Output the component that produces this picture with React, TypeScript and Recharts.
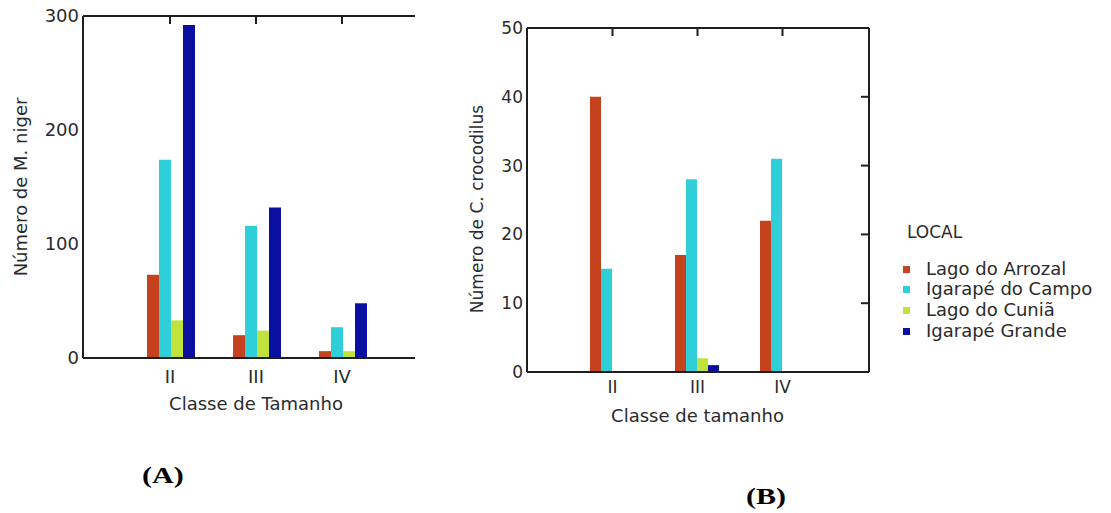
import React from 'react';
import { BarChart, Bar, XAxis, YAxis, ReferenceLine } from 'recharts';

const categories = ['II', 'III', 'IV'];
const seriesNames = ['Lago do Arrozal', 'Igarapé do Campo', 'Lago do Cuniã', 'Igarapé Grande'];
const seriesColors = ['#C4421E', '#2ECFD8', '#BFE23C', '#0B0F9F'];

// (A) Número de M. niger
const nigerArrozal = [73, 20, 6];
const nigerCampo = [174, 116, 27];
const nigerCunia = [33, 24, 6];
const nigerGrande = [292, 132, 48];
const nigerTicks = [0, 100, 200, 300];

// (B) Número de C. crocodilus
const crocArrozal = [40, 17, 22];
const crocCampo = [15, 28, 31];
const crocCunia = [0, 2, 0];
const crocGrande = [0, 1, 0];
const crocTicks = [0, 10, 20, 30, 40, 50];

const FONT = '"DejaVu Sans", Verdana, sans-serif';
const TXT = '#2b2b2b';
const LINE = '#1e1e1e';

const keys = ['s0', 's1', 's2', 's3'];

const dataA = categories.map((c, i) => ({
  cat: c,
  s0: nigerArrozal[i],
  s1: nigerCampo[i],
  s2: nigerCunia[i],
  s3: nigerGrande[i],
}));

const dataB = categories.map((c, i) => ({
  cat: c,
  s0: crocArrozal[i],
  s1: crocCampo[i],
  s2: crocCunia[i],
  s3: crocGrande[i],
}));

const axisLineStyle = { stroke: LINE, strokeWidth: 2 };

const EmptyTick = () => <g />;

function xTitle(text: string, padL: number, padR: number, capTop: number, fs: number) {
  return (props: any) => {
    const vb = props.viewBox || {};
    const cx = vb.x + padL + (vb.width - padL - padR) / 2;
    const baseline = vb.y + capTop + 0.729 * fs;
    return (
      <text x={cx} y={baseline} textAnchor="middle" fill={TXT} fontSize={fs} fontFamily={FONT}>
        {text}
      </text>
    );
  };
}

function yTitle(text: string, cxOffset: number, cyShift: number, fs: number) {
  return (props: any) => {
    const vb = props.viewBox || {};
    const cx = vb.x + cxOffset;
    const cy = vb.y + vb.height / 2 + cyShift;
    return (
      <text
        x={cx}
        y={cy}
        transform={`rotate(-90, ${cx}, ${cy})`}
        textAnchor="middle"
        dominantBaseline="central"
        fill={TXT}
        fontSize={fs}
        fontFamily={FONT}
      >
        {text}
      </text>
    );
  };
}

// short inward tick at the top of a category reference line
const TopTickShape = (props: any) => {
  const x = props.x1 ?? props.x2;
  const yTop = Math.min(props.y1 ?? 0, props.y2 ?? 0);
  if (x == null || isNaN(x)) return <g />;
  return <line x1={x} x2={x} y1={yTop} y2={yTop + 8} stroke={LINE} strokeWidth={2} />;
};

function topFrame(yMax: number) {
  return [
    <ReferenceLine key="top" y={yMax} stroke={LINE} strokeWidth={2} />,
    ...categories.map((c) => (
      <ReferenceLine key={'t' + c} x={c} stroke={LINE} strokeWidth={2} shape={TopTickShape} />
    )),
  ];
}

function ChartA() {
  const padA = { left: 44, right: 30 };
  const yMax = nigerTicks[nigerTicks.length - 1];
  return (
    <BarChart
      width={430}
      height={420}
      data={dataA}
      margin={{ top: 16, right: 15, bottom: 0, left: 0 }}
      barCategoryGap={20}
      barGap={0}
    >
      <XAxis
        dataKey="cat"
        height={62}
        padding={padA}
        tickLine={false}
        tickSize={0}
        tickMargin={12}
        axisLine={axisLineStyle}
        tick={{ fill: TXT, fontSize: 18, fontFamily: FONT }}
        label={xTitle('Classe de Tamanho', padA.left, padA.right, 39, 18)}
      />
      <YAxis
        width={83}
        domain={[0, yMax]}
        ticks={nigerTicks}
        tickLine={false}
        tickSize={0}
        tickMargin={4}
        axisLine={axisLineStyle}
        tick={{ fill: TXT, fontSize: 18, fontFamily: FONT }}
        label={yTitle('Número de M. niger', 20, 0, 18)}
      />
      {keys.map((k, i) => (
        <Bar key={k} dataKey={k} name={seriesNames[i]} fill={seriesColors[i]} isAnimationActive={false} />
      ))}
      {topFrame(yMax)}
    </BarChart>
  );
}

function ChartB() {
  const padB = { left: 43, right: 44 };
  const yMax = crocTicks[crocTicks.length - 1];
  return (
    <BarChart
      width={671}
      height={440}
      data={dataB}
      margin={{ top: 28, right: 241, bottom: 0, left: 0 }}
      barCategoryGap={20}
      barGap={0}
    >
      <XAxis
        dataKey="cat"
        height={68}
        padding={padB}
        tickLine={false}
        tickSize={0}
        tickMargin={9}
        axisLine={axisLineStyle}
        tick={{ fill: TXT, fontSize: 17, fontFamily: FONT }}
        label={xTitle('Classe de tamanho', padB.left, padB.right, 37, 18)}
      />
      <YAxis
        width={87}
        domain={[0, yMax]}
        ticks={crocTicks}
        tickLine={false}
        tickSize={0}
        tickMargin={4}
        axisLine={axisLineStyle}
        tick={{ fill: TXT, fontSize: 17, fontFamily: FONT }}
        label={yTitle('Número de C. crocodilus', 37, 9, 17)}
      />
      <YAxis
        yAxisId="right"
        orientation="right"
        width={1}
        domain={[0, yMax]}
        ticks={crocTicks}
        allowDataOverflow
        tick={EmptyTick}
        tickSize={-8}
        axisLine={axisLineStyle}
        tickLine={axisLineStyle}
      />
      {keys.map((k, i) => (
        <Bar key={k} dataKey={k} name={seriesNames[i]} fill={seriesColors[i]} isAnimationActive={false} />
      ))}
      {topFrame(yMax)}
    </BarChart>
  );
}

function LegendBox() {
  return (
    <div
      style={{
        position: 'absolute',
        left: 903,
        top: 222,
        fontFamily: FONT,
        fontSize: 18,
        lineHeight: '20.7px',
        color: TXT,
        whiteSpace: 'nowrap',
      }}
    >
      <div style={{ marginLeft: 4, marginBottom: 16, fontSize: 17 }}>LOCAL</div>
      {seriesNames.map((n, i) => (
        <div key={n} style={{ display: 'flex', alignItems: 'center', height: 20.7 }}>
          <span style={{ display: 'inline-block', width: 7, height: 7, background: seriesColors[i], marginRight: 16 }} />
          <span>{n}</span>
        </div>
      ))}
    </div>
  );
}

const panelLabelStyle: React.CSSProperties = {
  position: 'absolute',
  fontFamily: '"Liberation Serif", "Times New Roman", serif',
  fontWeight: 'bold',
  fontSize: 24,
  lineHeight: '24px',
  color: '#000',
  transform: 'scaleX(1.25)',
  transformOrigin: 'left top',
  whiteSpace: 'nowrap',
};

export default function App() {
  return (
    <div style={{ position: 'absolute', left: 0, top: 0, width: 1111, height: 513, background: '#fff', overflow: 'hidden' }}>
      <div style={{ position: 'absolute', left: 0, top: 0 }}>
        <ChartA />
      </div>
      <div style={{ position: 'absolute', left: 440, top: 0 }}>
        <ChartB />
      </div>
      <LegendBox />
      <div style={{ ...panelLabelStyle, left: 142, top: 463 }}>(A)</div>
      <div style={{ ...panelLabelStyle, left: 746, top: 484 }}>(B)</div>
    </div>
  );
}
